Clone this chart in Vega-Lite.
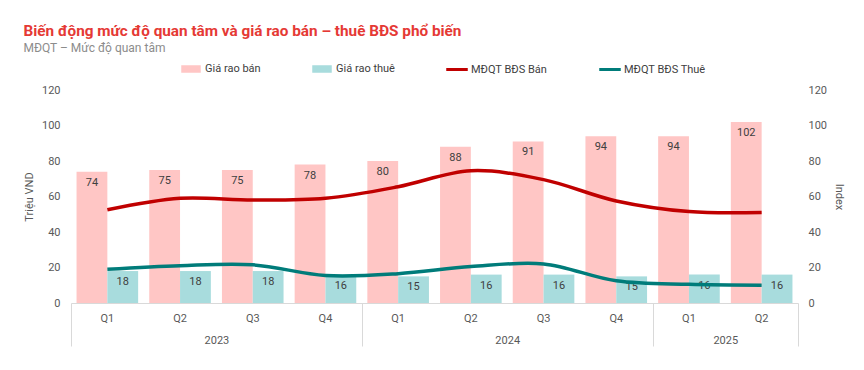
{
  "$schema": "https://vega.github.io/schema/vega-lite/v6.json",
  "width": 727,
  "height": 213,
  "autosize": {"type": "none"},
  "padding": {"left": 71, "top": 90, "right": 66, "bottom": 67},
  "title": {
    "text": "Biến động mức độ quan tâm và giá rao bán – thuê BĐS phổ biến",
    "subtitle": "MĐQT – Mức độ quan tâm",
    "anchor": "start",
    "frame": "bounds",
    "font": "Roboto",
    "fontSize": 15.3,
    "fontWeight": "bold",
    "color": "#E53935",
    "subtitleFont": "Roboto",
    "subtitleFontSize": 12,
    "subtitleColor": "#8C8C8C",
    "subtitlePadding": 4,
    "offset": 4
  },
  "config": {
    "font": "Roboto",
    "view": {"stroke": null},
    "axis": {"labelFont": "Roboto", "titleFont": "Roboto", "labelColor": "#595959", "titleColor": "#595959", "labelFontSize": 11, "titleFontSize": 11, "titleFontWeight": "normal", "grid": false},
    "legend": {"labelFont": "Roboto"}
  },
  "datasets": {
    "bars": [
      {"period": "2023-Q1", "series": "Giá rao bán", "value": 74},
      {"period": "2023-Q2", "series": "Giá rao bán", "value": 75},
      {"period": "2023-Q3", "series": "Giá rao bán", "value": 75},
      {"period": "2023-Q4", "series": "Giá rao bán", "value": 78},
      {"period": "2024-Q1", "series": "Giá rao bán", "value": 80},
      {"period": "2024-Q2", "series": "Giá rao bán", "value": 88},
      {"period": "2024-Q3", "series": "Giá rao bán", "value": 91},
      {"period": "2024-Q4", "series": "Giá rao bán", "value": 94},
      {"period": "2025-Q1", "series": "Giá rao bán", "value": 94},
      {"period": "2025-Q2", "series": "Giá rao bán", "value": 102},
      {"period": "2023-Q1", "series": "Giá rao thuê", "value": 18},
      {"period": "2023-Q2", "series": "Giá rao thuê", "value": 18},
      {"period": "2023-Q3", "series": "Giá rao thuê", "value": 18},
      {"period": "2023-Q4", "series": "Giá rao thuê", "value": 16},
      {"period": "2024-Q1", "series": "Giá rao thuê", "value": 15},
      {"period": "2024-Q2", "series": "Giá rao thuê", "value": 16},
      {"period": "2024-Q3", "series": "Giá rao thuê", "value": 16},
      {"period": "2024-Q4", "series": "Giá rao thuê", "value": 15},
      {"period": "2025-Q1", "series": "Giá rao thuê", "value": 16},
      {"period": "2025-Q2", "series": "Giá rao thuê", "value": 16}
    ],
    "lines": [
      {"period": "2023-Q1", "series": "MĐQT BĐS Bán", "index": 52.5},
      {"period": "2023-Q2", "series": "MĐQT BĐS Bán", "index": 59},
      {"period": "2023-Q3", "series": "MĐQT BĐS Bán", "index": 58},
      {"period": "2023-Q4", "series": "MĐQT BĐS Bán", "index": 59},
      {"period": "2024-Q1", "series": "MĐQT BĐS Bán", "index": 65.5},
      {"period": "2024-Q2", "series": "MĐQT BĐS Bán", "index": 74.5},
      {"period": "2024-Q3", "series": "MĐQT BĐS Bán", "index": 69.5},
      {"period": "2024-Q4", "series": "MĐQT BĐS Bán", "index": 57.5},
      {"period": "2025-Q1", "series": "MĐQT BĐS Bán", "index": 51.5},
      {"period": "2025-Q2", "series": "MĐQT BĐS Bán", "index": 51},
      {"period": "2023-Q1", "series": "MĐQT BĐS Thuê", "index": 19},
      {"period": "2023-Q2", "series": "MĐQT BĐS Thuê", "index": 21},
      {"period": "2023-Q3", "series": "MĐQT BĐS Thuê", "index": 21.5},
      {"period": "2023-Q4", "series": "MĐQT BĐS Thuê", "index": 15.5},
      {"period": "2024-Q1", "series": "MĐQT BĐS Thuê", "index": 16.5},
      {"period": "2024-Q2", "series": "MĐQT BĐS Thuê", "index": 20.5},
      {"period": "2024-Q3", "series": "MĐQT BĐS Thuê", "index": 22},
      {"period": "2024-Q4", "series": "MĐQT BĐS Thuê", "index": 12.5},
      {"period": "2025-Q1", "series": "MĐQT BĐS Thuê", "index": 10.5},
      {"period": "2025-Q2", "series": "MĐQT BĐS Thuê", "index": 10}
    ],
    "years": [
      {"year": "2023", "mid": 2},
      {"year": "2024", "mid": 6},
      {"year": "2025", "mid": 9}
    ],
    "seps": [
      {"b": 0}, {"b": 4}, {"b": 8}, {"b": 10}
    ]
  },
  "layer": [
    {
      "data": {"name": "bars"},
      "encoding": {
        "x": {"field": "period", "type": "nominal", "sort": null,
              "scale": {"paddingInner": 0, "paddingOuter": 0},
              "axis": {"orient": "bottom", "title": null, "labelAngle": 0, "labelExpr": "slice(datum.value, 5)", "ticks": false, "tickSize": 0, "labelPadding": 9, "domain": true, "domainColor": "#D9D9D9", "domainWidth": 1}},
        "xOffset": {"field": "series", "type": "nominal", "sort": ["Giá rao bán", "Giá rao thuê"],
                    "scale": {"paddingInner": 0, "paddingOuter": 0.18}},
        "y": {"field": "value", "type": "quantitative",
              "scale": {"domain": [0, 120], "nice": false, "zero": true},
              "axis": {"orient": "left", "values": [0, 20, 40, 60, 80, 100, 120], "ticks": false, "tickSize": 0, "domain": false, "labelPadding": 11, "title": "Triệu VND", "titlePadding": 7}}
      },
      "layer": [
        {
          "mark": {"type": "bar"},
          "encoding": {
            "color": {"field": "series", "type": "nominal",
                      "scale": {"domain": ["Giá rao bán", "Giá rao thuê", "MĐQT BĐS Bán", "MĐQT BĐS Thuê"],
                                "range": ["#FFC6C5", "#A8DCDD", "#C00000", "#007C7A"]},
                      "legend": {
                        "orient": "none", "legendX": 109, "legendY": -32, "direction": "horizontal", "columns": 4,
                        "title": null, "padding": 0, "columnPadding": 49, "symbolSize": 400, "labelOffset": 3,
                        "labelFontSize": 11, "labelColor": "#404040",
                        "encode": {"symbols": {"update": {
                          "shape": {"signal": "datum.label == 'MĐQT BĐS Bán' || datum.label == 'MĐQT BĐS Thuê' ? 'M-1,-0.08H1V0.08H-1Z' : 'M-0.9,-0.3H0.9V0.3H-0.9Z'"}
                        }}}
                      }}
          }
        },
        {
          "mark": {"type": "text", "baseline": "middle", "dy": 11, "fontSize": 11, "color": "#404040"},
          "encoding": {"text": {"field": "value", "type": "quantitative"}}
        }
      ]
    },
    {
      "data": {"name": "lines"},
      "mark": {"type": "line", "interpolate": "catmull-rom", "strokeWidth": 3.5},
      "encoding": {
        "x": {"field": "period", "type": "nominal", "sort": null, "scale": {"paddingInner": 0, "paddingOuter": 0}, "axis": null},
        "y": {"field": "index", "type": "quantitative",
              "scale": {"domain": [0, 120], "nice": false, "zero": true},
              "axis": {"orient": "right", "values": [0, 20, 40, 60, 80, 100, 120], "ticks": false, "tickSize": 0, "domain": false, "labelPadding": 10, "title": "Index", "titlePadding": 7}},
        "color": {"field": "series", "type": "nominal"}
      }
    },
    {
      "data": {"name": "years"},
      "mark": {"type": "point", "opacity": 0},
      "encoding": {
        "x": {"field": "mid", "type": "quantitative", "scale": {"domain": [0, 10], "nice": false, "zero": false},
              "axis": {"orient": "bottom", "values": [2, 6, 9], "labelExpr": "datum.value == 2 ? '2023' : datum.value == 6 ? '2024' : '2025'", "ticks": false, "tickSize": 0, "domain": false, "labelPadding": 31, "title": null, "labelFlush": false}}
      }
    },
    {
      "data": {"name": "seps"},
      "mark": {"type": "rule", "opacity": 0},
      "encoding": {
        "x": {"field": "b", "type": "quantitative", "scale": {"domain": [0, 10], "nice": false, "zero": false},
              "axis": {"orient": "bottom", "values": [0, 4, 8, 10], "labels": false, "ticks": true, "tickSize": 43, "tickColor": "#D9D9D9", "tickWidth": 1, "domain": false, "title": null}}
      }
    }
  ],
  "resolve": {"scale": {"x": "independent", "y": "independent"}}
}
